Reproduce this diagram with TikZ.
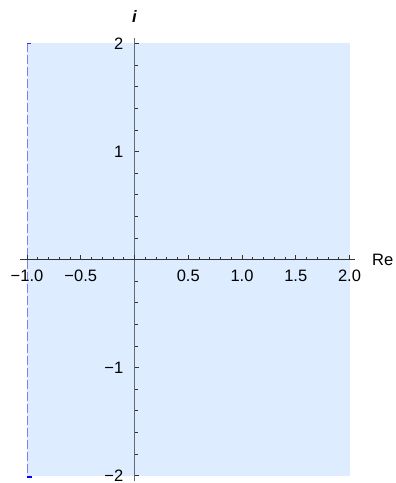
\documentclass[tikz,border=0pt]{standalone}
\usepackage{fontspec}
\setmainfont{Liberation Sans}
\definecolor{regionfill}{RGB}{221,236,255}
\definecolor{edgeblue}{RGB}{125,125,250}
\definecolor{axisgray}{RGB}{100,106,116}
\begin{document}
\begin{tikzpicture}[x=107.5pt, y=108pt, font=\fontsize{16.5}{18}\selectfont,
    ticklbl/.style={inner sep=0pt},
    tickmark/.style={black!80, line width=0.6pt}]
    \useasboundingbox (-1.2512,-2.0694) rectangle (2.4233,2.4028);
    % 区域
    \fill[regionfill] (-1,-2) rectangle (2,2);
    \draw[edgeblue, line width=0.8pt, dash pattern=on 9pt off 3pt] (-1,2) -- (-1,-2);
    \draw[blue!80, line width=0.8pt] (-1,2) -- ++(4pt,0);
    \fill[blue] (-1,-2) rectangle ++(4.5pt,-2.5pt);

    % 坐标轴
    \coordinate (xl) at (-1.065,0);
    \coordinate (xr) at (2.051,0);
    \coordinate (yt) at (0,2.051);
    \coordinate (yb) at (0,-2.05);
    \draw[black!80, line width=0.8pt] (xl) -- (xr);
    \draw[axisgray, line width=1.8pt] (yb) -- (yt);

    % 刻度
    \foreach \i in {-10,...,20} \draw[tickmark] (\i/10,0) -- ++(0,2.7pt);
    \foreach \i in {-2,...,4} \draw[tickmark] (\i/2,0) -- ++(0,5pt);
    \foreach \i in {-10,...,10} \draw[tickmark] (0,\i/5) -- ++(3pt,0);
    \foreach \i in {-2,...,2} \draw[tickmark] (0,\i) -- ++(4pt,0);

    % 刻度标签
    \foreach \x/\t [count=\k] in {-1/{−1.0},-0.5/{−0.5},0.5/0.5,1/1.0,1.5/1.5,2/2.0}
        \node[ticklbl, anchor=north, yshift=-10.5pt] (xlab\k) at (\x,0) {\t};
    \foreach \y/\t [count=\k] in {2/2,1/1,-1/{−1},-2/{−2}}
        \node[ticklbl, anchor=east, xshift=-11pt] (ylab\k) at (0,\y) {\t};
    \node[ticklbl, anchor=west, xshift=17pt] (relab) at (xr) {Re};
    \node[ticklbl, anchor=south, yshift=15pt] (imlab) at (yt) {\bfseries\itshape i};
\end{tikzpicture}
\end{document}
